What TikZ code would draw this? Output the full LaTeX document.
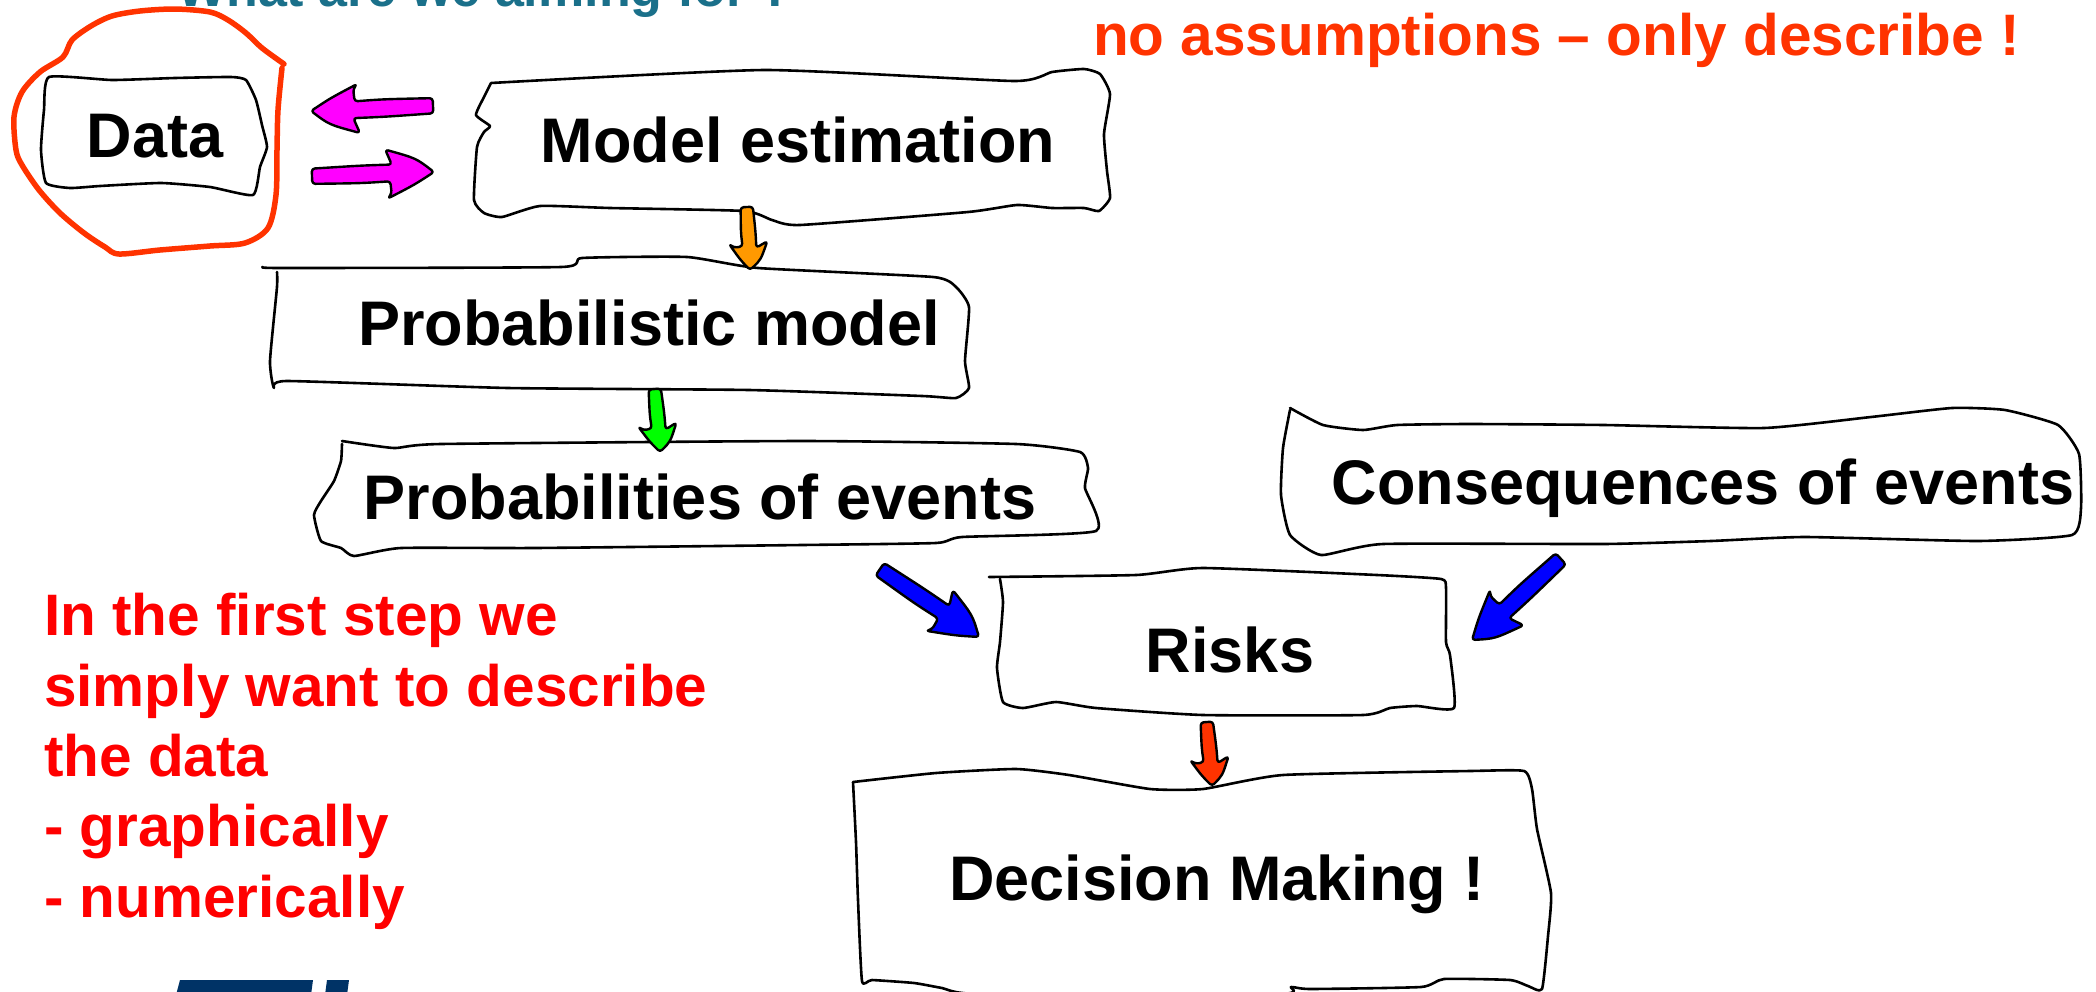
\documentclass[tikz,border=0pt]{standalone}
\usepackage{fontspec}
\setmainfont{Liberation Sans}
\usetikzlibrary{calc}

\definecolor{titleteal}{RGB}{26,112,138}
\definecolor{hotred}{RGB}{255,51,0}
\definecolor{notered}{RGB}{255,0,0}
\definecolor{magentaarr}{RGB}{255,0,255}
\definecolor{orangearr}{RGB}{255,153,0}
\definecolor{greenarr}{RGB}{0,255,0}
\definecolor{bluearr}{RGB}{0,0,255}
\definecolor{logoblue}{RGB}{0,51,102}

\tikzset{
  sketch/.style={draw=black, line width=2.6pt, line join=round, line cap=round},
  boxlabel/.style={font=\fontsize{63}{70}\selectfont\bfseries, anchor=base, inner sep=0pt},
  redtext/.style={font=\fontsize{58.5}{70.3}\selectfont\bfseries, inner sep=0pt},
  % hand-drawn block arrow, tail at the origin, pointing along +x, length #1
  blockarr/.pic={
    \pgfmathsetmacro\L{#1}
    \pgfmathsetmacro\H{min(0.38*\L,44)}
    \pgfmathsetmacro\S{4.8+0.025*\L}
    \pgfmathsetmacro\B{min(13+0.09*\L,24)}
    \path[pic actions, line width=2.4pt, line join=round, rounded corners=3pt]
      (0,-\S+0.5) .. controls (0.4*\L,-\S-1) .. (\L-\H+2,-\S-1)
      -- (\L-\H-4,-\B) .. controls (\L-0.4*\H,-0.6*\B) .. (\L,0)
      .. controls (\L-0.45*\H,0.5*\B) .. (\L-\H-3,\B+1)
      -- (\L-\H+1,\B-4) -- (\L-\H,\S)
      .. controls (0.4*\L,\S+1) .. (0,\S) -- cycle;
  }
}

% block arrow of colour #1 from coordinate #2 to coordinate #3
\newcommand\sketcharrow[3]{%
  \path let \p1=(#2), \p2=(#3),
    \n1={atan2(\y2-\y1,\x2-\x1)}, \n2={veclen(\x2-\x1,\y2-\y1)}
    in (\p1) pic[rotate=\n1, draw=black, fill=#1] {blockarr=\n2};}

\begin{document}
\begin{tikzpicture}[x=1pt, y=-1pt]
\useasboundingbox (0,0) rectangle (2096,991);
\clip (0,0) rectangle (2096,991);
\fill[white] (0,0) rectangle (2096,991);

% ---- headings ----
\node[font=\fontsize{52}{60}\selectfont\bfseries, text=titleteal, anchor=base west, inner sep=0pt]
  (aim) at (177,6) {What are we aiming for ?};
\node[redtext, text=hotred, anchor=base west] (noassume) at (1093,55)
  {no assumptions -- only describe !};

% ---- sketched boxes ----
% Data
\draw[sketch] plot[smooth cycle, tension=0.3] coordinates {
  (49,77) (112,80) (175,78) (231,77) (246,80) (256,100) (262,125) (267,147)
  (260,167) (253,195) (210,187) (161,183) (100,186) (70,188) (46,183) (41,150) (44,110)};
\node[boxlabel] (data) at (155,157) {Data};

% circle round the data
\draw[hotred, line width=5.5pt, line cap=round, line join=round]
  plot[smooth, tension=0.5] coordinates {
  (284,64) (262,48) (246,33) (228,20) (210,12) (175,9) (140,11) (112,16) (91,26)
  (72,40) (63,57) (40,72) (22,92) (14,117) (16,150) (22,165) (39,190) (60,213)
  (84,233) (105,247) (119,254) (160,250) (210,246) (245,243) (268,228) (276,195)
  (277,150) (278,110) (282,68)};

% Model estimation
\draw[sketch] plot[smooth, tension=0.3] coordinates {
  (491,83) (765,70) (1014,81) (1052,72) (1084,69) (1100,74) (1110,94) (1104,134)
  (1107,171) (1110,198) (1099,211) (1084,208) (1052,208) (1017,205) (968,212)
  (800,225) (772,220) (744,211) (610,208) (540,206) (502,217) (484,213) (474,200)
  (477,147) (484,132) (490,126) (476,115) (484,97) (491,83)};
\node[boxlabel] (model) at (798,162) {Model estimation};

% Probabilistic model
\draw[sketch] plot[smooth, tension=0.3] coordinates {
  (263,267) (281,268) (561,267) (582,258) (687,257) (758,268) (933,277) (956,287)
  (969,307) (965,361) (969,388) (956,398) (922,396) (749,390) (508,388) (287,381)
  (274,388) (270,361) (277,287) (277,272)};
\node[boxlabel] (probmodel) at (649,345) {Probabilistic model};

% Probabilities of events
\draw[sketch] plot[smooth, tension=0.3] coordinates {
  (342,441) (394,448) (441,444) (802,441) (1016,444) (1080,452) (1088,468)
  (1085,488) (1096,531) (962,537) (936,543) (802,545) (535,548) (401,548)
  (354,556) (341,548) (321,541) (314,515) (321,501) (334,481) (341,461) (342,444)};
\node[boxlabel] (probev) at (700,519) {Probabilities of events};

% Consequences of events
\draw[sketch] plot[smooth, tension=0.3] coordinates {
  (1290,408) (1323,425) (1363,430) (1397,425) (1470,424) (1604,425) (1764,428)
  (1871,417) (1952,408) (2005,410) (2058,425) (2079,454) (2081,508) (2072,535)
  (1978,541) (1805,537) (1711,541) (1604,544) (1383,544) (1321,555) (1290,535)
  (1281,495) (1283,448) (1290,410)};
\node[boxlabel] (conseq) at (1703,504) {Consequences of events};

% Risks
\draw[sketch] plot[smooth, tension=0.3] coordinates {
  (989,577) (1136,575) (1203,568) (1377,575) (1441,579) (1446,588) (1446,642)
  (1450,655) (1454,708) (1417,706) (1390,708) (1363,715) (1203,715) (1096,708)
  (1056,702) (1023,708) (1003,702) (997,668) (1000,642) (1003,602) (1000,579)};
\node[boxlabel] (risks) at (1230,672) {Risks};

% Decision Making
\draw[sketch] plot[smooth, tension=0.3] coordinates {
  (853,782) (936,773) (1016,769) (1069,775) (1150,789) (1203,789) (1283,775)
  (1470,771) (1524,771) (1532,789) (1537,829) (1551,893) (1548,936) (1542,989)
  (1528,986) (1510,980) (1444,979) (1421,987) (1310,989) (1291,987) (1279,994)
  (979,994) (942,988) (914,983) (872,980) (862,981) (858,900) (856,842) (853,782)};
\node[boxlabel] (decision) at (1217,900) {Decision Making !};

% ---- connectors ----
\coordinate (model-out)  at (747,207);
\coordinate (prob-in)    at (750,270);
\coordinate (prob-out)   at (655,389);
\coordinate (ev-in)      at (660,452);
\coordinate (ev-out)     at (880,569);
\coordinate (risk-inl)   at (979,637);
\coordinate (cons-out)   at (1561,559);
\coordinate (risk-inr)   at (1472,640);
\coordinate (risk-out)   at (1207,722);
\coordinate (dec-in)     at (1212,786);
\coordinate (model-back) at (433,106);
\coordinate (data-in)    at (311,111);
\coordinate (data-out)   at (312,176);
\coordinate (model-in)   at (434,172);

\sketcharrow{magentaarr}{model-back}{data-in}
\sketcharrow{magentaarr}{data-out}{model-in}
\sketcharrow{orangearr}{model-out}{prob-in}
\sketcharrow{greenarr}{prob-out}{ev-in}
\sketcharrow{bluearr}{ev-out}{risk-inl}
\sketcharrow{bluearr}{cons-out}{risk-inr}
\sketcharrow{hotred}{risk-out}{dec-in}

% ---- side note ----
\node[redtext, text=notered, align=left, anchor=base west] (note) at (44,917)
  {In the first step we\\simply want to describe\\the data\\- graphically\\- numerically};

% ---- logo edge ----
\fill[logoblue] (180,980) -- (313,980) -- (311,995) -- (176,995) -- cycle;
\fill[logoblue] (327,980) -- (349,980) -- (347,995) -- (325,995) -- cycle;
\end{tikzpicture}
\end{document}
